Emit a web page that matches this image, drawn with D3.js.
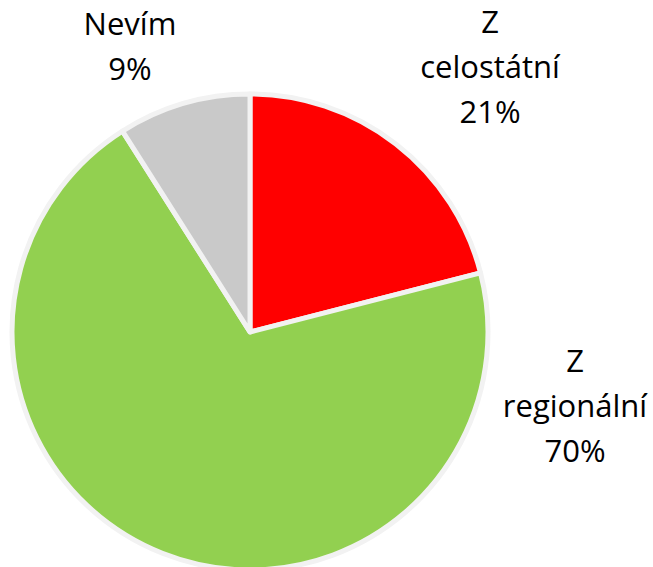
<!DOCTYPE html>
<html>
<head>
<meta charset="UTF-8">
<script src="https://cdn.jsdelivr.net/npm/d3@7"></script>
<style>
body { margin: 0; background: #fff; }
text { font-family: "Open Sans", sans-serif; font-size: 31px; fill: #000; }
</style>
</head>
<body>
<script>
var categories = ["Z celostátní", "Z regionální", "Nevím"];
var labelLines = [["Z", "celostátní"], ["Z", "regionální"], ["Nevím"]];
var values = [21, 70, 9];
var colors = ["#ff0000", "#92d050", "#c9c9c9"];

// label anchor points (layout, not data)
var labelAt = [[490, 33], [575, 372], [130, 35]];

var width = 653, height = 567;
var cx = 250, cy = 332, radius = 238;

var svg = d3.select("body").append("svg")
    .attr("width", width)
    .attr("height", height);

var pie = d3.pie().sort(null).value(function(d){ return d; });
var arc = d3.arc().innerRadius(0).outerRadius(radius);

var g = svg.append("g").attr("transform", "translate(" + cx + "," + cy + ")");

g.selectAll("path")
    .data(pie(values))
    .enter()
    .append("path")
    .attr("d", arc)
    .attr("fill", function(d, i){ return colors[i]; })
    .attr("stroke", "#f2f2f2")
    .attr("stroke-width", 5)
    .attr("stroke-linejoin", "round");

var lh = 45;
labelLines.forEach(function(lines, i){
    var t = svg.append("text")
        .attr("text-anchor", "middle")
        .attr("x", labelAt[i][0])
        .attr("y", labelAt[i][1]);
    var all = lines.concat([values[i] + "%"]);
    all.forEach(function(s, j){
        t.append("tspan")
            .attr("x", labelAt[i][0])
            .attr("dy", j == 0 ? 0 : lh)
            .text(s);
    });
});
</script>
</body>
</html>
